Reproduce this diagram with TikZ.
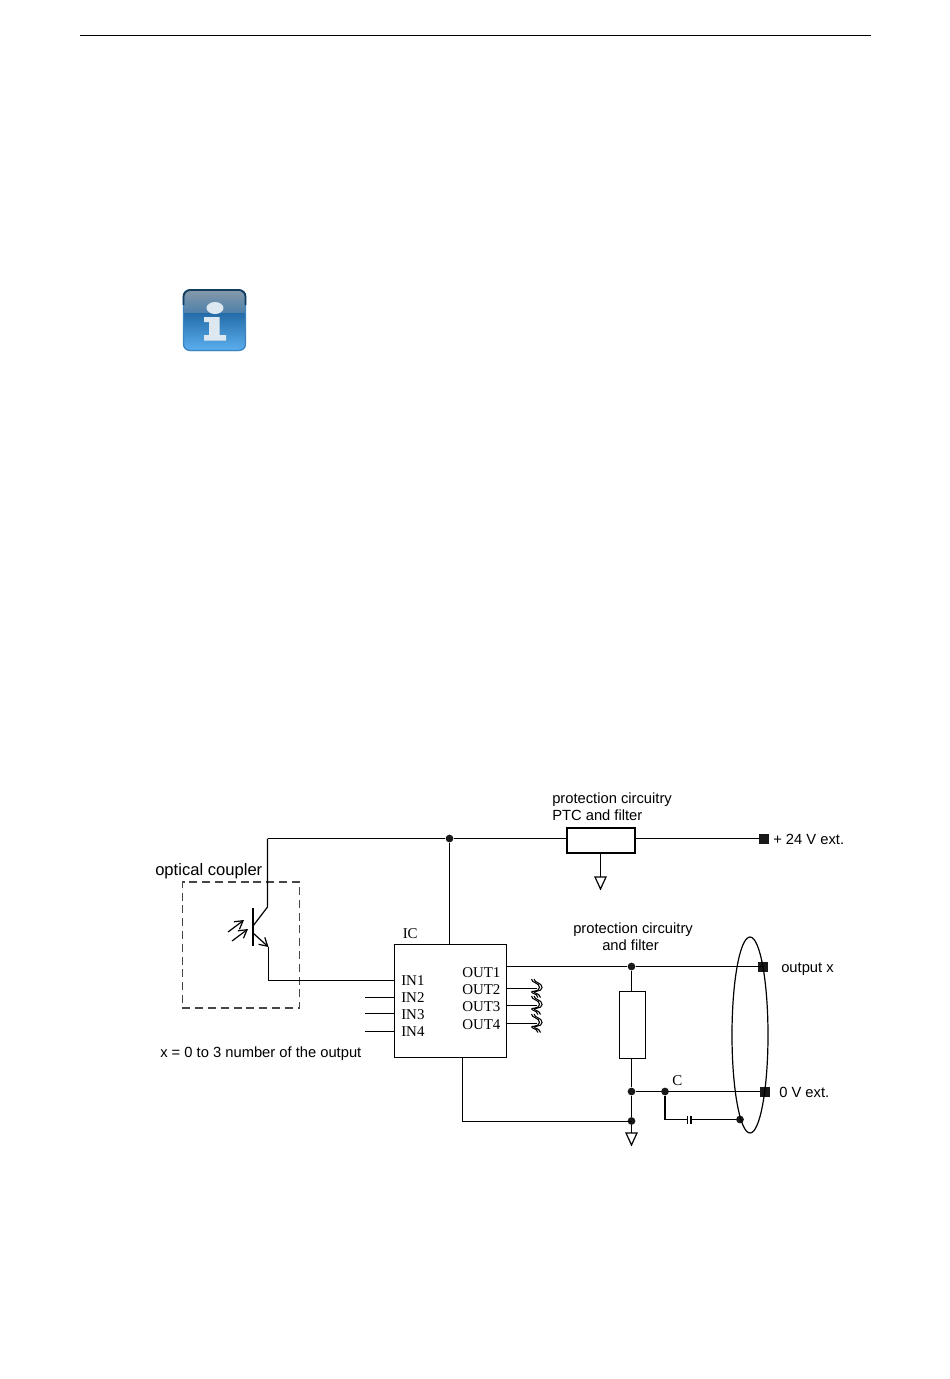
\documentclass[tikz,border=0pt]{standalone}
\usepackage{fontspec}
\setmainfont{Liberation Serif}
\setsansfont{Liberation Sans}
\usetikzlibrary{arrows.meta,calc,positioning}
\definecolor{icondark}{RGB}{18,62,98}
\definecolor{iconedge}{RGB}{60,130,190}
\definecolor{icontop}{RGB}{136,154,170}
\definecolor{iconbrk}{RGB}{78,128,170}
\definecolor{iconmid}{RGB}{36,108,168}
\definecolor{iconlow}{RGB}{92,176,240}
\definecolor{iconi}{RGB}{222,232,240}
\definecolor{dashgrey}{RGB}{70,70,70}
\tikzset{
  wire/.style={line width=0.9pt},
  dot/.style={circle, fill=black!90, draw=none, inner sep=0pt, minimum size=5.8pt},
  term/.style={rectangle, fill=black!90, draw=none, inner sep=0pt, minimum size=7.5pt},
  arial/.style={font=\sffamily\fontsize{11.05}{12}\selectfont, inner sep=0pt, anchor=base west},
  pin/.style={font=\fontsize{11.2}{12}\selectfont, inner sep=0pt, anchor=base west},
  wave/.style={line width=0.8pt},
  barb/.style={-{Straight Barb[length=6pt,width=7pt]}},
}
% one ground triangle below a point
\newcommand{\gndmark}[1]{\draw[wire, fill=white] ($(#1)+(-5.5,0)$) -- ($(#1)+(5.5,0)$) -- ($(#1)+(0,12)$) -- cycle;}
% a doubled wiggle over an output stub
\newcommand{\wigmark}[2]{
  \foreach \dx in {0,2.6} {
    \draw[wave] ($(#1,#2)+(-4.5+\dx,-9.5)$) .. controls +(0,4) and +(0,-5) .. ($(#1,#2)+(3.5+\dx,-1)$) .. controls +(0,5) and +(-3,-2) .. ($(#1,#2)+(-4+\dx,4)$) .. controls +(3,2) and +(0,-3) .. ($(#1,#2)+(2+\dx,9)$);
  }
}
\begin{document}
\begin{tikzpicture}[x=0.75pt, y=-0.75pt, >=Stealth]
    \useasboundingbox (0,0) rectangle (950,1379);
    \coordinate (ruleL) at (80,35.5);
    \coordinate (ruleR) at (871,35.5);
    \draw[line width=0.7pt] (ruleL) -- (ruleR);

    % info icon
    \begin{scope}
        \clip[rounded corners=5pt] (183,289.5) rectangle (246,351);
        \shade[top color=icontop, bottom color=iconbrk] (183,289) rectangle (246,313);
        \shade[top color=iconmid, bottom color=iconlow] (183,313) rectangle (246,351);
    \end{scope}
    \draw[draw=iconedge, line width=0.9pt, rounded corners=5pt] (183.5,290) rectangle (245.5,350.5);
    \draw[draw=icondark, line width=1.4pt, rounded corners=5pt] (183.5,305) -- (183.5,290) -- (245.5,290) -- (245.5,305);
    \fill[iconi] (215,308) ellipse (8.5 and 6);
    \fill[iconi] (204,317) -- (219.5,317) -- (219.5,335) -- (226,335) -- (226,340.5) -- (204,340.5) -- (204,335) -- (209,335) -- (209,322) -- (204,322) -- cycle;

    % supply rail
    \node (ptc) [rectangle, draw, line width=1.3pt, minimum width=51pt, minimum height=18.5pt, inner sep=0pt] at (601,840.5) {};
    \node (plus) [term] at (764,838.5) {};
    \node (railDot) [dot] at (449.5,838.5) {};
    \coordinate (railL) at (267.5,838.5);
    \node (plusTxt) [arial] at (773,844) {+ 24 V ext.};
    \node (ptcTxtA) [arial] at (552,803) {protection circuitry};
    \node (ptcTxtB) [arial] at (552,820.5) {PTC and filter};
    \draw[wire] (railL) -- (railDot) -- (railDot -| ptc.west);
    \draw[wire] (railDot -| ptc.east) -- (plus);
    \coordinate (ptcGnd) at (600.5,877);
    \draw[wire] (ptc.south -| ptcGnd) -- (ptcGnd);
    \gndmark{ptcGnd}

    % optical coupler
    \node (optoTxt) [arial, font=\sffamily\fontsize{12.45}{13}\selectfont] at (155,875) {optical coupler};
    \node (opto) [rectangle, draw=dashgrey, dashed, dash pattern=on 6pt off 3.6pt, line width=1.1pt, minimum width=88pt, minimum height=94.5pt, inner sep=0pt] at (241,945) {};
    \coordinate (baseT) at (253,908);
    \coordinate (baseB) at (253,946);
    \coordinate (coll) at (267.5,907);
    \coordinate (emit) at (268.5,947);
    \coordinate (inA) at (268.5,980.5);
    \draw[wire] (baseT) -- (baseB);
    \draw[wire] (railL) -- (coll) -- (253,926);
    \draw[wire, barb] (253,933) -- (emit);
    \draw[wire, barb] (228,932) -- (244,920);
    \draw[wire, barb] (232,941) -- (248,929);

    % IC
    \node (ic) [rectangle, draw, line width=0.9pt, minimum width=84.5pt, minimum height=85pt, inner sep=0pt] at (450.5,1001) {};
    \node (icTxt) [pin] at (402.5,938.5) {IC};
    \foreach \n/\y in {1/985,2/1002,3/1019,4/1036}
        \node (in\n) [pin] at (401,\y) {IN\n};
    \foreach \n/\y in {1/977,2/994,3/1011,4/1029}
        \node (out\n) [pin] at (462,\y) {OUT\n};
    \node (noteTxt) [arial] at (160,1057) {x = 0 to 3 number of the output};
    \draw[wire] (emit) -- (inA) -- (inA -| ic.west);
    \draw[wire] (railDot) -- (railDot |- ic.north);
    \foreach \y in {997.5,1013.5,1031.5} {
        \coordinate (stub) at (365,\y);
        \draw[wire] (stub) -- (stub -| ic.west);
    }
    \foreach \y in {988.5,1005.5,1023.5} {
        \coordinate (stub) at (537,\y);
        \draw[wire] (stub -| ic.east) -- (stub);
        \wigmark{536}{\y}
    }

    % output side
    \node (outDot) [dot] at (631.5,966.5) {};
    \node (outTerm) [term] at (763,967) {};
    \node (outTxt) [arial] at (781,972) {output x};
    \node (protA) [arial] at (573,933) {protection circuitry};
    \node (protB) [arial] at (602,950) {and filter};
    \node (res) [rectangle, draw, line width=0.9pt, minimum width=19.5pt, minimum height=50pt, inner sep=0pt] at (632.5,1025) {};
    \node (midDot) [dot] at (631.5,1091.5) {};
    \node (gndDot) [dot] at (631.5,1121) {};
    \node (cDot) [dot] at (665,1091.5) {};
    \node (cTxt) [pin] at (672,1085) {C};
    \node (zeroTerm) [term] at (765,1091.5) {};
    \node (zeroTxt) [arial] at (779,1097) {0 V ext.};
    \node (shieldDot) [dot] at (740,1119.5) {};
    \coordinate (icOut) at (462.5,1121.5);
    \coordinate (capL) at (687.5,1119.5);
    \coordinate (capR) at (691,1119.5);
    \coordinate (gnd) at (631.5,1133);
    \draw[wire] (outDot -| ic.east) -- (outDot) -- (outDot -| outTerm);
    \draw[wire] (outDot) -- (outDot |- res.north);
    \draw[wire] (midDot |- res.south) -- (midDot) -- (gndDot) -- (gnd);
    \draw[wire] (midDot) -- (cDot) -- (zeroTerm);
    \draw[wire] (icOut |- ic.south) -- (icOut) -- (icOut -| gndDot);
    \draw[wire] (cDot) -- (cDot |- capL) -- (capL);
    \draw[wire] (capR) -- (shieldDot);
    \draw[wire] ($(capL)+(0,-4)$) -- ($(capL)+(0,4)$);
    \draw[wire] ($(capR)+(0,-4)$) -- ($(capR)+(0,4)$);
    \gndmark{gnd}
    \draw[wire] (750,1035) ellipse (18 and 98);
\end{tikzpicture}
\end{document}
